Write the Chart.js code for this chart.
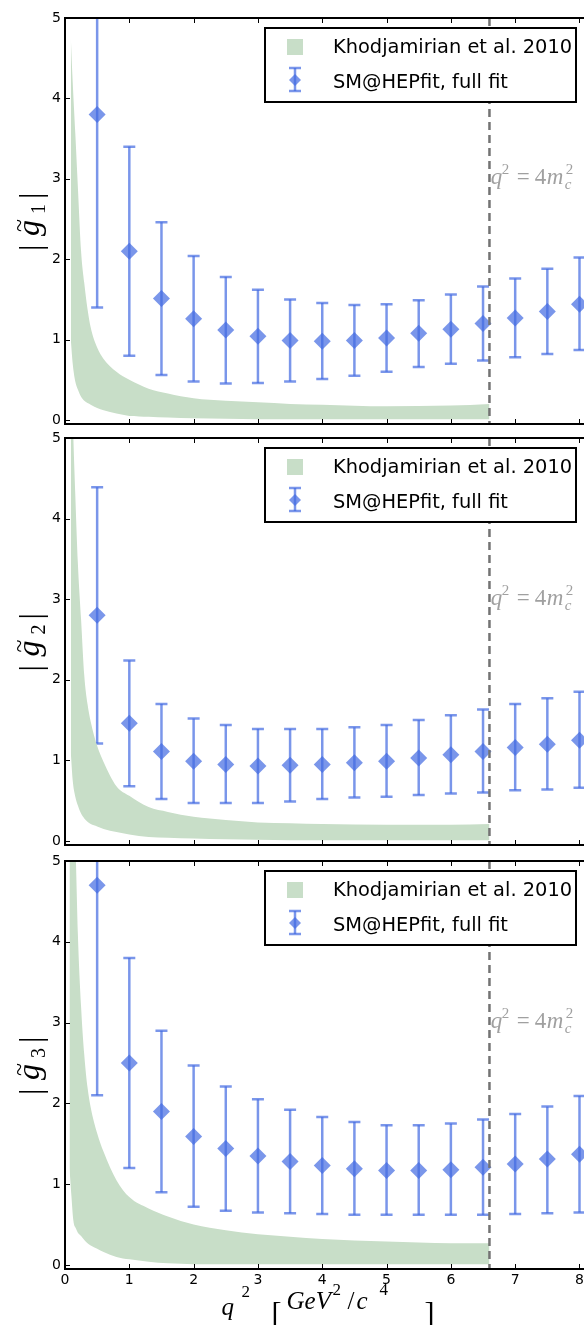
<!DOCTYPE html>
<html>
<head>
<meta charset="utf-8">
<title>g1 g2 g3 vs q2</title>
<script src="https://cdn.jsdelivr.net/npm/chart.js@4.4.1/dist/chart.umd.min.js"></script>
<style>
  html, body { margin: 0; padding: 0; background: #fff; }
  body { width: 584px; height: 1325px; position: relative; overflow: hidden; }
  canvas { position: absolute; left: 0; }
</style>
</head>
<body>
<canvas id="panel1" width="584" height="431" style="top:0px"></canvas>
<canvas id="panel2" width="584" height="421" style="top:431px"></canvas>
<canvas id="panel3" width="584" height="473" style="top:852px"></canvas>
<script>
// --- fit results (q^2 bins) ---
const q2Bins = [0.5, 1, 1.5, 2, 2.5, 3, 3.5, 4, 4.5, 5, 5.5, 6, 6.5, 7, 7.5, 8];

const g1Central = [3.80, 2.10, 1.51, 1.26, 1.12, 1.04, 0.99, 0.98, 0.99, 1.02, 1.08, 1.13, 1.20, 1.27, 1.35, 1.44];
const g1Low     = [1.40, 0.80, 0.56, 0.48, 0.455, 0.46, 0.48, 0.51, 0.55, 0.60, 0.66, 0.70, 0.74, 0.78, 0.82, 0.87];
const g1High    = [6.20, 3.40, 2.46, 2.04, 1.78, 1.62, 1.50, 1.455, 1.43, 1.44, 1.49, 1.56, 1.66, 1.76, 1.88, 2.02];

const g2Central = [2.80, 1.46, 1.11, 0.99, 0.95, 0.93, 0.94, 0.95, 0.97, 0.99, 1.03, 1.07, 1.11, 1.16, 1.20, 1.25];
const g2Low     = [1.21, 0.68, 0.52, 0.47, 0.47, 0.47, 0.49, 0.52, 0.54, 0.55, 0.57, 0.59, 0.60, 0.63, 0.64, 0.66];
const g2High    = [4.39, 2.24, 1.70, 1.52, 1.44, 1.39, 1.39, 1.39, 1.41, 1.44, 1.50, 1.56, 1.63, 1.70, 1.77, 1.85];

const g3Central = [4.70, 2.50, 1.90, 1.59, 1.44, 1.35, 1.28, 1.23, 1.19, 1.17, 1.17, 1.18, 1.21, 1.25, 1.31, 1.37];
const g3Low     = [2.10, 1.20, 0.90, 0.72, 0.67, 0.65, 0.64, 0.63, 0.62, 0.62, 0.62, 0.62, 0.62, 0.63, 0.64, 0.65];
const g3High    = [7.30, 3.80, 2.90, 2.47, 2.21, 2.05, 1.92, 1.83, 1.77, 1.73, 1.73, 1.75, 1.80, 1.87, 1.96, 2.09];

// --- LCSR band (Khodjamirian et al.) ---
const bandQ2      = [0.09, 0.12, 0.16, 0.2, 0.25, 0.3, 0.35, 0.4, 0.5, 0.6, 0.8, 1.0, 1.3, 1.6, 2.0, 2.5, 3.0, 3.5, 4.0, 5.0, 6.0, 6.6];
const band1Upper  = [4.76, 4.2, 3.57, 2.9, 2.1, 1.7, 1.38, 1.15, 0.9, 0.76, 0.6, 0.5, 0.39, 0.33, 0.27, 0.24, 0.22, 0.2, 0.19, 0.17, 0.18, 0.2];
const band1Lower  = [1.0, 0.7, 0.48, 0.38, 0.29, 0.24, 0.21, 0.19, 0.15, 0.12, 0.08, 0.05, 0.04, 0.03, 0.02, 0.015, 0.01, 0.01, 0.01, 0.01, 0.01, 0.01];
const band2Upper  = [6.5, 5.3, 4.3, 3.45, 2.75, 2.05, 1.7, 1.48, 1.18, 0.98, 0.68, 0.56, 0.42, 0.36, 0.3, 0.26, 0.23, 0.22, 0.21, 0.2, 0.2, 0.21];
const band2Lower  = [1.1, 0.75, 0.55, 0.44, 0.34, 0.28, 0.24, 0.21, 0.18, 0.15, 0.11, 0.08, 0.05, 0.04, 0.03, 0.02, 0.015, 0.01, 0.01, 0.01, 0.01, 0.01];
const band3Q2     = [0.07, 0.1, 0.13, 0.17, 0.2, 0.25, 0.3, 0.35, 0.4, 0.5, 0.6, 0.8, 1.0, 1.3, 1.6, 2.0, 2.5, 3.0, 3.5, 4.0, 5.0, 6.0, 6.6];
const band3Upper  = [8, 7, 6, 5.0, 4.1, 3.2, 2.6, 2.2, 1.95, 1.63, 1.4, 1.05, 0.84, 0.7, 0.6, 0.5, 0.43, 0.38, 0.35, 0.32, 0.29, 0.27, 0.27];
const band3Lower  = [1.2, 0.85, 0.55, 0.45, 0.4, 0.36, 0.31, 0.27, 0.24, 0.2, 0.16, 0.1, 0.07, 0.04, 0.02, 0.01, 0.01, 0.01, 0.01, 0.01, 0.01, 0.01, 0.01];

// --- axes / labels ---
const xTicks = [0, 1, 2, 3, 4, 5, 6, 7, 8];
const yTicks = [0, 1, 2, 3, 4, 5];
const q2Threshold = 6.6;          // q^2 = 4 m_c^2
const legendLabels = ['Khodjamirian et al. 2010', 'SM@HEPfit, full fit'];

const bandColor = '#c8dec8';
const barColor  = 'rgba(65,105,225,0.7)';
const tickFont  = '14px "DejaVu Sans"';
const serif     = '"Liberation Serif", "DejaVu Serif", serif';

function toPoints(xs, ys) {
    return xs.map((x, i) => ({ x: x, y: ys[i] }));
}

function drawErrorBars(chart, low, high) {
    const { ctx, chartArea: a, scales: { x, y } } = chart;
    ctx.save();
    ctx.beginPath();
    ctx.rect(a.left, a.top, a.right - a.left, a.bottom - a.top);
    ctx.clip();
    ctx.strokeStyle = barColor;
    ctx.lineWidth = 2.5;
    q2Bins.forEach((q, i) => {
        const px = x.getPixelForValue(q);
        const yl = y.getPixelForValue(low[i]);
        const yh = y.getPixelForValue(high[i]);
        ctx.beginPath();
        ctx.moveTo(px, yh); ctx.lineTo(px, yl);
        ctx.stroke();
        ctx.beginPath();
        ctx.moveTo(px - 6, yh); ctx.lineTo(px + 6, yh);
        ctx.moveTo(px - 6, yl); ctx.lineTo(px + 6, yl);
        ctx.stroke();
    });
    ctx.restore();
}

function drawThreshold(chart) {
    const { ctx, chartArea: a, scales: { x, y } } = chart;
    const px = x.getPixelForValue(q2Threshold);
    ctx.save();
    ctx.strokeStyle = '#737373';
    ctx.lineWidth = 2.5;
    ctx.setLineDash([8, 5]);
    ctx.beginPath();
    ctx.moveTo(px, a.top); ctx.lineTo(px, a.bottom);
    ctx.stroke();
    ctx.setLineDash([]);

    // q^2 = 4 m_c^2 label
    const tx = x.getPixelForValue(6.62);
    const ty = y.getPixelForValue(2.93);
    ctx.fillStyle = '#a0a0a0';
    ctx.textBaseline = 'alphabetic';
    ctx.font = 'italic 23px ' + serif;
    ctx.fillText('q', tx, ty);
    ctx.font = '15px ' + serif;
    ctx.fillText('2', tx + 11, ty - 10);
    ctx.font = '23px ' + serif;
    ctx.fillText('=', tx + 26, ty);
    ctx.fillText('4', tx + 44, ty);
    ctx.font = 'italic 23px ' + serif;
    ctx.fillText('m', tx + 56, ty);
    ctx.font = 'italic 15px ' + serif;
    ctx.fillText('c', tx + 74, ty + 5);
    ctx.font = '15px ' + serif;
    ctx.fillText('2', tx + 75, ty - 10);
    ctx.restore();
}

function drawFrame(chart, showXLabels) {
    const { ctx, chartArea: a, scales: { x, y } } = chart;
    ctx.save();
    ctx.strokeStyle = '#000';
    ctx.lineWidth = 1;
    ctx.beginPath();
    yTicks.forEach(v => {
        const py = Math.round(y.getPixelForValue(v)) + 0.5;
        ctx.moveTo(a.left, py); ctx.lineTo(a.left + 5, py);
    });
    xTicks.forEach(v => {
        const px = Math.round(x.getPixelForValue(v)) + 0.5;
        ctx.moveTo(px, a.bottom); ctx.lineTo(px, a.bottom - 5);
        ctx.moveTo(px, a.top); ctx.lineTo(px, a.top + 5);
    });
    ctx.stroke();

    ctx.lineWidth = 2;
    ctx.beginPath();
    ctx.moveTo(a.right + 2, a.top);
    ctx.lineTo(a.left, a.top);
    ctx.lineTo(a.left, a.bottom);
    ctx.lineTo(a.right + 2, a.bottom);
    ctx.stroke();

    ctx.fillStyle = '#000';
    ctx.font = tickFont;
    ctx.textAlign = 'right';
    ctx.textBaseline = 'middle';
    yTicks.forEach(v => ctx.fillText(String(v), a.left - 4, y.getPixelForValue(v)));
    if (showXLabels) {
        ctx.textAlign = 'center';
        xTicks.forEach(v => ctx.fillText(String(v), x.getPixelForValue(v), a.bottom + 11));
    }
    ctx.restore();
}

function drawLegend(chart) {
    const { ctx, chartArea: a } = chart;
    const bx = 265, by = a.top + 10, bw = 311, bh = 74;
    ctx.save();
    ctx.fillStyle = '#fff';
    ctx.fillRect(bx, by, bw, bh);
    ctx.strokeStyle = '#000';
    ctx.lineWidth = 2;
    ctx.strokeRect(bx, by, bw, bh);

    ctx.fillStyle = bandColor;
    ctx.fillRect(287, by + 11, 16, 16);

    // errorbar handle
    const cx = 295, top = by + 40, bot = by + 63, mid = by + 52;
    ctx.strokeStyle = barColor;
    ctx.lineWidth = 2.5;
    ctx.beginPath();
    ctx.moveTo(cx, top); ctx.lineTo(cx, bot);
    ctx.stroke();
    ctx.beginPath();
    ctx.moveTo(cx - 6, top); ctx.lineTo(cx + 6, top);
    ctx.moveTo(cx - 6, bot); ctx.lineTo(cx + 6, bot);
    ctx.stroke();
    ctx.fillStyle = barColor;
    ctx.beginPath();
    ctx.moveTo(cx, mid - 6); ctx.lineTo(cx + 6, mid); ctx.lineTo(cx, mid + 6); ctx.lineTo(cx - 6, mid);
    ctx.closePath();
    ctx.fill();

    ctx.fillStyle = '#000';
    ctx.textAlign = 'left';
    ctx.textBaseline = 'alphabetic';
    ctx.font = '19px "DejaVu Sans"';
    const size = Math.min(20, 19 * 239 / ctx.measureText(legendLabels[0]).width);
    ctx.font = size.toFixed(1) + 'px "DejaVu Sans"';
    ctx.fillText(legendLabels[0], 333, by + 25);
    ctx.fillText(legendLabels[1], 333, by + 60);
    ctx.restore();
}

function drawYTitle(chart, sub) {
    const { ctx, chartArea: a } = chart;
    ctx.save();
    ctx.translate(39, (a.top + a.bottom) / 2);
    ctx.rotate(-Math.PI / 2);
    ctx.fillStyle = '#000';
    ctx.textAlign = 'left';
    ctx.textBaseline = 'alphabetic';
    ctx.font = '32px ' + serif;
    ctx.fillText('|', -30, 2);
    ctx.font = 'italic 32px ' + serif;
    ctx.fillText('g', -15, 0);
    ctx.font = '24px ' + serif;
    ctx.fillText('~', -11, -12);
    ctx.font = '20px ' + serif;
    ctx.fillText(sub, 7, 6);
    ctx.font = '32px ' + serif;
    ctx.fillText('|', 22, 2);
    ctx.restore();
}

function drawXTitle(chart) {
    const { ctx, chartArea: a } = chart;
    const xs = (a.left + a.right) / 2 - 103;
    const base = a.bottom + 40;     // baseline of GeV, c
    ctx.save();
    ctx.fillStyle = '#000';
    ctx.textAlign = 'left';
    ctx.textBaseline = 'alphabetic';
    ctx.font = 'italic 25px ' + serif;
    ctx.fillText('q', xs, base + 6);
    ctx.font = '17px ' + serif;
    ctx.fillText('2', xs + 20, base - 12);
    ctx.font = '30px ' + serif;
    ctx.fillText('[', xs + 50, base + 13);
    ctx.font = 'italic 25px ' + serif;
    ctx.fillText('GeV', xs + 65, base);
    ctx.font = '17px ' + serif;
    ctx.fillText('2', xs + 111, base - 14);
    ctx.font = '25px ' + serif;
    ctx.fillText('/', xs + 126, base);
    ctx.font = 'italic 25px ' + serif;
    ctx.fillText('c', xs + 135, base);
    ctx.font = '17px ' + serif;
    ctx.fillText('4', xs + 158, base - 14);
    ctx.font = '30px ' + serif;
    ctx.fillText(']', xs + 203, base + 13);
    ctx.restore();
}

function makePanel(id, opts) {
    const panelPlugin = {
        id: 'panel',
        beforeDatasetDraw(chart, args) {
            if (args.index === 2) drawErrorBars(chart, opts.low, opts.high);
        },
        afterDatasetsDraw(chart) {
            drawThreshold(chart);
        },
        afterDraw(chart) {
            drawFrame(chart, opts.xLabels);
            drawLegend(chart);
            drawYTitle(chart, opts.sub);
            if (opts.xLabels) drawXTitle(chart);
        },
    };

    return new Chart(document.getElementById(id), {
        type: 'line',
        data: {
            datasets: [
                {
                    label: legendLabels[0],
                    data: toPoints(opts.bandX, opts.upper),
                    borderWidth: 0,
                    pointRadius: 0,
                    backgroundColor: bandColor,
                    fill: '+1',
                    cubicInterpolationMode: 'monotone',
                },
                {
                    label: 'band lower',
                    data: toPoints(opts.bandX, opts.lower),
                    borderWidth: 0,
                    pointRadius: 0,
                    fill: false,
                    cubicInterpolationMode: 'monotone',
                },
                {
                    label: legendLabels[1],
                    data: toPoints(q2Bins, opts.central),
                    showLine: false,
                    pointStyle: 'rectRot',
                    pointRadius: 8.5,
                    pointBorderWidth: 0,
                    pointBackgroundColor: barColor,
                    borderColor: barColor,
                },
            ],
        },
        options: {
            responsive: false,
            animation: false,
            events: [],
            layout: { padding: opts.padding, autoPadding: false },
            plugins: { legend: { display: false }, tooltip: { enabled: false } },
            scales: {
                x: { type: 'linear', min: 0, max: 8.07, display: false },
                y: { type: 'linear', min: -0.05, max: 5, display: false },
            },
        },
        plugins: [panelPlugin],
    });
}

makePanel('panel1', {
    sub: '1', xLabels: false,
    padding: { top: 18, left: 65, right: 0, bottom: 7 },
    bandX: bandQ2, upper: band1Upper, lower: band1Lower,
    central: g1Central, low: g1Low, high: g1High,
});
makePanel('panel2', {
    sub: '2', xLabels: false,
    padding: { top: 7, left: 65, right: 0, bottom: 7 },
    bandX: bandQ2, upper: band2Upper, lower: band2Lower,
    central: g2Central, low: g2Low, high: g2High,
});
makePanel('panel3', {
    sub: '3', xLabels: true,
    padding: { top: 9, left: 65, right: 0, bottom: 56 },
    bandX: band3Q2, upper: band3Upper, lower: band3Lower,
    central: g3Central, low: g3Low, high: g3High,
});
</script>
</body>
</html>
